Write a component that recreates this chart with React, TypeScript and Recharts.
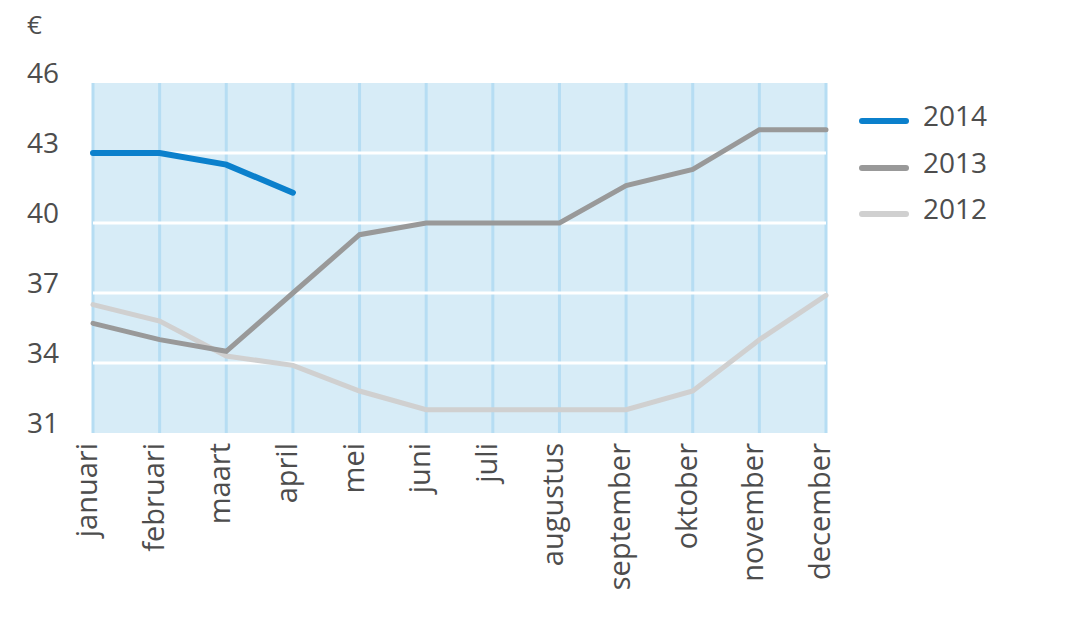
import { LineChart, Line, XAxis, YAxis, CartesianGrid, ReferenceLine } from 'recharts';

const months = ['januari', 'februari', 'maart', 'april', 'mei', 'juni', 'juli', 'augustus', 'september', 'oktober', 'november', 'december'];
const price2014 = [43.0, 43.0, 42.5, 41.3, null, null, null, null, null, null, null, null];
const price2013 = [35.7, 35.0, 34.5, 37.0, 39.5, 40.0, 40.0, 40.0, 41.6, 42.3, 44.0, 44.0];
const price2012 = [36.5, 35.8, 34.3, 33.9, 32.8, 32.0, 32.0, 32.0, 32.0, 32.8, 35.0, 36.9];
const yTicks = [31, 34, 37, 40, 43, 46];
const whiteLines = [34, 37, 40, 43];

const series = [
  { key: 'y2014', name: '2014', color: '#0b80cc', width: 6 },
  { key: 'y2013', name: '2013', color: '#999999', width: 5 },
  { key: 'y2012', name: '2012', color: '#d0d0d0', width: 5 },
];

const data = months.map((m, i) => ({
  month: m,
  y2014: price2014[i],
  y2013: price2013[i],
  y2012: price2012[i],
}));

const FONT = '"Open Sans", "Noto Sans", sans-serif';
const TEXT = '#4d4d4d';

function MonthTick({ x, y, payload }: any) {
  return (
    <g transform={`translate(${x},${y})`}>
      <text transform="rotate(-90)" x={-10} y={4} textAnchor="end" fontSize={29} fontFamily={FONT} fill={TEXT}>
        {payload.value}
      </text>
    </g>
  );
}

function PriceTick({ y, payload }: any) {
  return (
    <text x={27} y={y - 10} dy="0.36em" textAnchor="start" fontSize={28} fontFamily={FONT} fill={TEXT}>
      {payload.value}
    </text>
  );
}

// legend drawn next to the chart, same look as the print version
function YearLegend() {
  return (
    <div style={{ position: 'absolute', left: 859, top: 92, fontFamily: FONT }}>
      {series.map((s) => (
        <div key={s.key} style={{ display: 'flex', alignItems: 'center', height: 46.5 }}>
          <div style={{ width: 50, height: 6, borderRadius: 3, background: s.color, marginTop: 12 }} />
          <span style={{ marginLeft: 14, fontSize: 28, color: TEXT, lineHeight: 1 }}>{s.name}</span>
        </div>
      ))}
    </div>
  );
}

export default function App() {
  return (
    <div style={{ position: 'absolute', left: 0, top: 0, width: 1070, height: 631, background: '#fff' }}>
      <div style={{ position: 'absolute', left: 27, top: 6, fontSize: 26, fontFamily: FONT, color: TEXT }}>€</div>
      <LineChart width={1070} height={631} data={data} margin={{ top: 83, right: 244, bottom: 38, left: 33 }}>
        <CartesianGrid horizontal={false} stroke="#b6ddf3" strokeWidth={3} fill="#d7ecf7" />
        {whiteLines.map((v) => (
          <ReferenceLine key={v} y={v} stroke="#ffffff" strokeWidth={3} />
        ))}
        <XAxis
          dataKey="month"
          axisLine={false}
          tickLine={false}
          tickSize={0}
          tickMargin={0}
          height={160}
          interval={0}
          tick={<MonthTick />}
        />
        <YAxis
          domain={[31, 46]}
          ticks={yTicks}
          axisLine={false}
          tickLine={false}
          width={60}
          tick={<PriceTick />}
        />
        {[...series].reverse().map((s) => (
          <Line
            key={s.key}
            dataKey={s.key}
            name={s.name}
            stroke={s.color}
            strokeWidth={s.width}
            dot={false}
            activeDot={false}
            strokeLinecap="round"
            isAnimationActive={false}
          />
        ))}
      </LineChart>
      <YearLegend />
    </div>
  );
}
